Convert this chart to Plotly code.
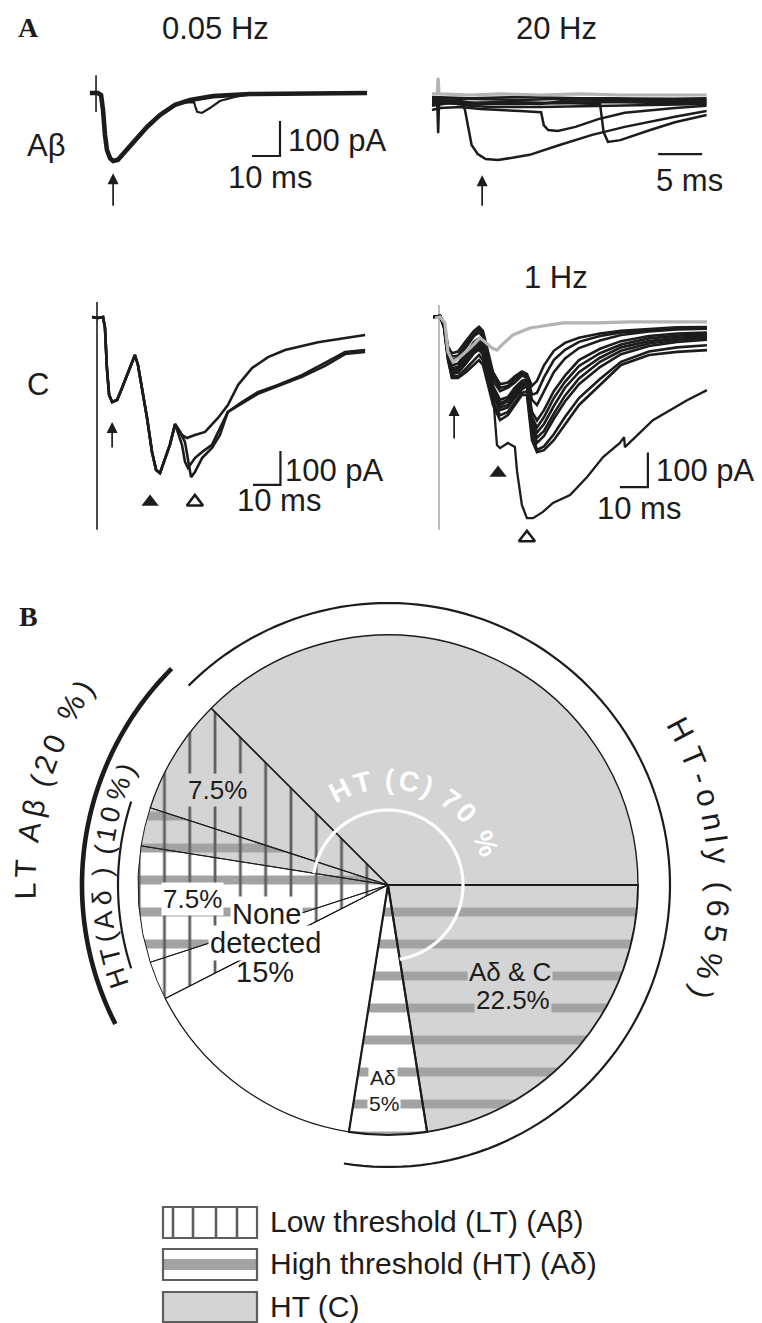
import numpy as np
import plotly.graph_objects as go

W, H = 762, 1323
FONT = "Liberation Sans, Arial, Helvetica, sans-serif"
SERIF = "Liberation Serif, Times New Roman, serif"
INK = "#1c1c1c"
GRAYTRACE = "#b4b4b4"
CGRAY = "#d4d4d4"
STRIPE = "#a3a3a3"
VLINE = "#5e5e5e"
FS = 31

# ======================= Panel A data (time ms, current pA) =======================
# 0.05 Hz, A-beta
ab05_t = [-0.4, 2.5, 3.6, 4.3, 5.0, 5.7, 6.8, 7.9, 9.6, 12.1, 15.7, 20.0, 24.6, 30.0, 35.4, 43.6, 56.8, 74.6, 98.6]
ab05_i = [0, 0, -6, -49, -120, -163, -186, -194, -191, -169, -134, -97, -63, -34, -20, -9, -3, -1, 0]
ab05_late_t = [33.0, 36.8, 37.3, 37.9, 39.6, 42.5, 46.0, 51.4, 56.0]
ab05_late_i = [-27, -26, -40, -54, -57, -43, -23, -11, -5]
ab05_art_t = [1.8, 1.8]
ab05_art_i = [51, -54]

# 20 Hz, A-beta
ab20_gray_t = [0, 0.6, 0.7, 0.8, 4.3, 7.7, 12.3, 16.8, 21.4, 27.6, 31.2]
ab20_gray_i = [3, 3, 49, 3, 0, 3, 0, 3, 0, 0, 0]
ab20_a_t = [0, 0.6, 0.7, 0.8, 2.0, 3.4, 3.75, 4.1, 4.5, 5.2, 6.1, 7.5, 9.1, 11.1, 14.5, 18.2, 21.9, 27.6, 31.2]
ab20_a_i = [-26, -26, -109, -23, -20, -23, -43, -94, -143, -169, -183, -186, -180, -171, -143, -114, -91, -62, -46]
ab20_b_t = [0, 0.9, 3.2, 5.5, 10.0, 12.4, 12.7, 13.2, 14.3, 16.3, 18.9, 21.9, 27.6, 31.2]
ab20_b_i = [-43, -37, -34, -40, -46, -49, -86, -100, -103, -91, -69, -51, -37, -31]
ab20_c_t = [0, 4.3, 10.0, 14.8, 19.1, 19.5, 20.0, 21.4, 24.8, 27.6, 31.2]
ab20_c_i = [-23, -26, -26, -23, -26, -106, -134, -129, -100, -78, -57]
ab20_d_t = [0, 4.3, 10.0, 16.8, 27.6, 31.2]
ab20_d_i = [-6, -9, -6, -9, -11, -9]
ab20_e_t = [0, 3.2, 5.5, 7.7, 12.3, 14.8, 19.1, 27.6, 31.2]
ab20_e_i = [-14, -17, -26, -23, -26, -17, -14, -20, -17]
ab20_f_t = [0, 2.0, 4.3, 6.6, 12.3, 19.1, 23.6, 27.6, 31.2]
ab20_f_i = [-31, -23, -31, -34, -34, -31, -31, -29, -26]
ab20_g_t = [0, 5.0, 10.0, 15.0, 20.0, 25.0, 31.2]
ab20_g_i = [-9, -11, -14, -11, -9, -14, -14]
ab20_h_t = [0, 3.0, 8.0, 14.0, 20.0, 26.0, 31.2]
ab20_h_i = [-20, -23, -20, -23, -20, -23, -23]

# 0.05 Hz, C fibre (three sweeps, common early part)
c05_common_t = [-1.8, 0.4, 2.2, 2.9, 3.6, 4.4, 5.5, 7.3, 9.1, 11.3, 13.8, 14.9, 16.7, 18.2, 20.0, 21.5, 22.9, 24.7, 26.5, 28.4]
c05_common_i = [0, -3, 0, -32, -150, -229, -250, -244, -209, -162, -112, -141, -221, -297, -397, -450, -459, -415, -376, -315]
c05_a_t = [30.9, 32.7, 35.6, 39.3, 44.0, 47.6, 51.3, 56.4, 62.2, 68.4, 80.4, 92.7, 97.5]
c05_a_i = [-347, -356, -347, -338, -297, -259, -200, -150, -118, -97, -74, -59, -53]
c05_b_t = [30.9, 32.0, 33.1, 35.6, 38.2, 41.8, 44.0, 47.6, 52.7, 58.5, 65.8, 74.5, 82.9, 90.2, 97.5]
c05_b_i = [-376, -426, -444, -415, -397, -376, -338, -279, -250, -221, -200, -171, -135, -103, -97]
c05_c_t = [30.2, 32.0, 33.5, 34.2, 35.6, 38.2, 41.8, 44.7, 47.6, 52.7, 58.5, 65.8, 74.5, 82.9, 90.2, 97.5]
c05_c_i = [-338, -368, -435, -471, -456, -415, -385, -347, -279, -253, -226, -203, -176, -144, -109, -103]
c05_art_t = [0, 0]
c05_art_i = [44, -626]

# 1 Hz, C fibre
c1_gray_t = [-1.4, 0.4, 2.1, 3.2, 5.0, 7.5, 11.1, 14.6, 16.4, 18.9, 20.7, 22.5, 26.4, 32.5, 44.3, 56.4, 68.2, 95.7]
c1_gray_i = [-3, 0, -17, -101, -130, -116, -90, -61, -72, -90, -96, -81, -52, -32, -17, -17, -14, -14]
c1_art_t = [0, 0]
c1_art_i = [35, -617]
c1_bundle_t = [-2.1, 0.4, 1.8, 3.2, 4.6, 6.8, 9.6, 12.5, 14.3, 15.7, 17.5, 19.3, 21.8, 24.6, 27.1, 29.6,
               31.4, 33.2, 35.0, 37.5, 41.0, 45.0, 50.0, 57.5, 65.0, 75.0, 85.0, 95.7]
c1_sweep1 = [0, 3, -15, -85, -105, -100, -70, -40, -28, -40, -100, -160, -195, -190, -172, -158, -165, -200, -185, -140, -98, -75, -60, -48, -40, -34, -30, -29]
c1_sweep2 = [0, 3, -20, -95, -125, -118, -88, -55, -45, -58, -120, -185, -215, -205, -190, -170, -175, -240, -255, -215, -160, -120, -90, -68, -52, -42, -36, -34]
c1_sweep3 = [0, 2, -22, -100, -140, -135, -105, -72, -62, -75, -140, -200, -240, -232, -205, -185, -180, -275, -300, -270, -215, -170, -125, -92, -70, -55, -48, -45]
c1_sweep4 = [0, 3, -25, -110, -155, -150, -118, -90, -78, -92, -155, -215, -255, -245, -222, -198, -190, -300, -335, -310, -258, -205, -160, -118, -88, -70, -60, -55]
c1_sweep5 = [0, 2, -28, -115, -165, -162, -135, -105, -95, -110, -170, -230, -270, -262, -235, -210, -200, -320, -365, -345, -295, -245, -195, -145, -108, -84, -72, -66]
c1_sweep6 = [0, 3, -30, -120, -172, -172, -150, -125, -110, -125, -185, -245, -285, -275, -248, -220, -215, -340, -385, -375, -340, -290, -235, -180, -130, -100, -88, -82]
c1_sweep7 = [0, 2, -32, -125, -177, -177, -160, -139, -125, -139, -197, -255, -299, -284, -255, -226, -226, -357, -392, -386, -357, -313, -255, -197, -139, -110, -101, -96]
c1_sweep8 = [0, 3, -18, -90, -115, -112, -80, -50, -35, -50, -110, -170, -205, -200, -180, -165, -170, -225, -220, -175, -125, -95, -72, -55, -45, -38, -33, -31]
c1_sweep9 = [0, 3, -24, -105, -148, -145, -112, -80, -70, -85, -150, -208, -250, -240, -215, -192, -185, -290, -320, -290, -235, -188, -142, -105, -80, -62, -54, -50]
c1_sweep10 = [0, 2, -27, -112, -160, -158, -128, -98, -88, -102, -162, -222, -262, -255, -228, -204, -195, -310, -350, -330, -280, -228, -178, -130, -98, -77, -66, -60]
c1_big_t = [-2.1, 0.4, 1.8, 3.2, 4.6, 6.8, 9.6, 12.5, 14.3, 15.7, 17.5, 19.3, 20.7, 21.8, 24.6, 27.1, 27.9, 29.6,
            31.4, 33.6, 37.1, 40.7, 46.8, 52.9, 58.6, 64.6, 66.1, 66.4, 76.4, 88.6, 95.7]
c1_big_i = [0, 3, -25, -110, -160, -155, -125, -95, -85, -100, -170, -226, -371, -380, -365, -377, -449, -545,
            -583, -583, -565, -539, -516, -464, -406, -365, -348, -377, -299, -241, -212]

# arrows (tip position) and arrowheads, per panel
arrow_t = [7.9, 5.7, 5.5, 5.4]
arrow_i = [-229, -229, -309, -255]
fill_tri_t = {"3": [19.3], "4": [21.1]}
fill_tri_i = {"3": [-544], "4": [-452]}
open_tri_t = {"3": [35.6], "4": [31.4]}
open_tri_i = {"3": [-544], "4": [-640]}

# scale bars: (t0, length ms, I0, height pA)
scalebars = {"": (57.5, 10, -180, 100), "2": (25.7, 5, -169, 0),
             "3": (56.7, 10, -494, 100), "4": (64.6, 10, -493, 100)}

# ======================= Panel B data =======================
pie_labels = ["Aδ & C", "Aδ", "None detected", "Aβ", "Aβ & Aδ", "Aβ, Aδ & C", "Aβ & C", "C"]
pie_values = [22.5, 5, 15, 2.5, 7.5, 2.5, 7.5, 37.5]
has_c = [1, 0, 0, 0, 0, 1, 1, 1]
has_ad = [1, 1, 0, 0, 1, 1, 0, 0]
has_ab = [0, 0, 0, 1, 1, 1, 1, 0]

legend_labels = ["Low threshold (LT) (Aβ)", "High threshold (HT) (Aδ)", "HT (C)"]

# ======================= Figure =======================
fig = go.Figure()
layout = {}

panels = {
    "":  dict(px=(85, 400), py=(60, 215), org=(91, 93), sx=2.8, sy=0.35),
    "2": dict(px=(425, 760), py=(60, 215), org=(432, 95), sx=8.8, sy=0.35),
    "3": dict(px=(85, 420), py=(290, 548), org=(97, 317), sx=2.75, sy=0.34),
    "4": dict(px=(425, 762), py=(290, 552), org=(439, 317), sx=2.8, sy=0.345),
}
for k, p in panels.items():
    x0, x1 = p["px"]; y0, y1 = p["py"]; ox, oy = p["org"]
    layout["xaxis" + k] = dict(domain=[x0 / W, x1 / W], range=[(x0 - ox) / p["sx"], (x1 - ox) / p["sx"]],
                               visible=False, anchor="y" + k, fixedrange=True)
    layout["yaxis" + k] = dict(domain=[1 - y1 / H, 1 - y0 / H], range=[-(y1 - oy) / p["sy"], (oy - y0) / p["sy"]],
                               visible=False, anchor="x" + k, fixedrange=True)
# canvas axis for panel B decorations (1 unit = 1 px, origin = pie centre)
CX, CY = 388, 885
layout["xaxis5"] = dict(domain=[0, 1], range=[-CX, W - CX], visible=False, anchor="y5", fixedrange=True)
layout["yaxis5"] = dict(domain=[0, 1], range=[-(H - CY), CY], visible=False, anchor="x5", fixedrange=True)


def line(k, t, i, color=INK, width=2.2):
    fig.add_trace(go.Scatter(x=t, y=i, xaxis="x" + k, yaxis="y" + k, mode="lines",
                             line=dict(color=color, width=width), hoverinfo="skip", showlegend=False))


# panel 1
line("", ab05_art_t, ab05_art_i, width=1.6)
line("", ab05_late_t, ab05_late_i, width=2.2)
line("", ab05_t, ab05_i, width=4.6)
# panel 2
for tt, ii in [(ab20_d_t, ab20_d_i), (ab20_g_t, ab20_g_i), (ab20_e_t, ab20_e_i), (ab20_h_t, ab20_h_i),
               (ab20_f_t, ab20_f_i), (ab20_b_t, ab20_b_i), (ab20_c_t, ab20_c_i), (ab20_a_t, ab20_a_i)]:
    line("2", tt, ii, width=2.5)
line("2", ab20_gray_t, ab20_gray_i, color=GRAYTRACE, width=3.2)
# panel 3
line("3", c05_art_t, c05_art_i, width=1.6)
for tt, ii in [(c05_a_t, c05_a_i), (c05_b_t, c05_b_i), (c05_c_t, c05_c_i)]:
    line("3", c05_common_t + tt, c05_common_i + ii, width=2.6)
# panel 4
line("4", c1_art_t, c1_art_i, color=GRAYTRACE, width=1.8)
for sw in [c1_sweep1, c1_sweep2, c1_sweep3, c1_sweep4, c1_sweep5, c1_sweep6, c1_sweep7,
           c1_sweep8, c1_sweep9, c1_sweep10]:
    line("4", c1_bundle_t, sw, width=2.6)
line("4", c1_big_t, c1_big_i, width=2.3)
line("4", c1_gray_t, c1_gray_i, color=GRAYTRACE, width=3.2)

# scale bars
for k, (t0, tl, i0, ih) in scalebars.items():
    if ih:
        line(k, [t0, t0 + tl, t0 + tl], [i0, i0, i0 + ih], width=2.2)
    else:
        line(k, [t0, t0 + tl], [i0, i0], width=2.4)

# triangles
for k in ["3", "4"]:
    fig.add_trace(go.Scatter(x=fill_tri_t[k], y=fill_tri_i[k], xaxis="x" + k, yaxis="y" + k, mode="markers",
                             marker=dict(symbol="triangle-up", size=15, color=INK), hoverinfo="skip", showlegend=False))
    fig.add_trace(go.Scatter(x=open_tri_t[k], y=open_tri_i[k], xaxis="x" + k, yaxis="y" + k, mode="markers",
                             marker=dict(symbol="triangle-up-open", size=14, color=INK, line=dict(width=2.6)),
                             hoverinfo="skip", showlegend=False))

fig.add_trace(go.Scatter(x=[0], y=[0], xaxis="x5", yaxis="y5", mode="markers", marker=dict(opacity=0),
                         hoverinfo="skip", showlegend=False))

annotations = []
arrow_len = [34, 32, 27, 35]
for k, t, i, L in zip(["", "2", "3", "4"], arrow_t, arrow_i, arrow_len):
    annotations.append(dict(x=t, y=i, xref="x" + k, yref="y" + k, ax=0, ay=L, text="", showarrow=True,
                            arrowhead=2, arrowsize=1.3, arrowwidth=1.7, arrowcolor=INK, standoff=0))


def ptxt(text, px, py, size=FS, xanchor="center", family=FONT, color=INK, bold=False):
    if bold:
        text = "<b>" + text + "</b>"
    annotations.append(dict(x=px / W, y=1 - py / H, xref="paper", yref="paper", text=text, showarrow=False,
                            xanchor=xanchor, yanchor="middle", font=dict(size=size, family=family, color=color)))


ptxt("A", 28, 27, size=28, family=SERIF, bold=True)
ptxt("B", 28, 617, size=28, family=SERIF, bold=True)
ptxt("0.05 Hz", 215, 28)
ptxt("20 Hz", 556, 28)
ptxt("1 Hz", 556, 277)
ptxt("Aβ", 46, 146)
ptxt("C", 38, 385)
ptxt("100 pA", 286, 141, xanchor="left")
ptxt("10 ms", 226, 177, xanchor="left")
ptxt("5 ms", 689, 180)
ptxt("100 pA", 283, 470, xanchor="left")
ptxt("10 ms", 235, 500, xanchor="left")
ptxt("100 pA", 654, 470, xanchor="left")
ptxt("10 ms", 595, 508, xanchor="left")

# ---------------- Pie (three stacked layers) ----------------
dom = dict(x=[(CX - 250) / W, (CX + 250) / W], y=[1 - (CY + 250) / H, 1 - (CY - 250) / H])
base_col = [CGRAY if c else "white" for c in has_c]
fig.add_trace(go.Pie(values=pie_values, labels=pie_labels, sort=False, direction="clockwise", rotation=90,
                     textinfo="none", hoverinfo="skip", showlegend=False, domain=dom,
                     marker=dict(colors=base_col, line=dict(width=0),
                                 pattern=dict(shape=["-" if a else "" for a in has_ad], fgcolor=STRIPE,
                                              bgcolor=base_col, size=32, solidity=0.28, fillmode="replace"))))
fig.add_trace(go.Pie(values=pie_values, labels=pie_labels, sort=False, direction="clockwise", rotation=90,
                     textinfo="none", hoverinfo="skip", showlegend=False, domain=dom,
                     marker=dict(colors=["rgba(0,0,0,0)"] * len(pie_values), line=dict(width=0),
                                 pattern=dict(shape=["|" if a else "" for a in has_ab], fgcolor=VLINE,
                                              bgcolor="rgba(0,0,0,0)", size=25.3, solidity=0.11,
                                              fillmode="replace"))))
fig.add_trace(go.Pie(values=pie_values, labels=pie_labels, sort=False, direction="clockwise", rotation=90,
                     textinfo="none", hoverinfo="skip", showlegend=False, domain=dom,
                     marker=dict(colors=["rgba(0,0,0,0)"] * len(pie_values),
                                 line=dict(color=INK, width=[1.8, 2.2, 1.3, 1.0, 1.0, 1.0, 1.3, 1.4]))))

# angles (deg, clockwise from 3 o'clock) of slice boundaries from the data
cum = np.concatenate([[0], np.cumsum(pie_values)]) / np.sum(pie_values) * 360.0


def arc_path(r, a0, a1):
    th = np.radians(np.linspace(a0, a1, 120))
    xs, ys = r * np.cos(th), -r * np.sin(th)
    return "M " + " L ".join(f"{x:.2f},{y:.2f}" for x, y in zip(xs, ys))


shapes = []


def arc(r, a0, a1, width, color=INK):
    shapes.append(dict(type="path", xref="x5", yref="y5", path=arc_path(r, a0, a1),
                       line=dict(color=color, width=width), layer="above"))


ab_idx = [i for i, v in enumerate(has_ab) if v]
arc(306, cum[ab_idx[0]], cum[ab_idx[-1] + 1], 4.6)                     # LT Abeta 20 %
arc(282, cum[7], 360 + cum[2], 2.2)                                     # HT-only 65 %
arc(270, cum[4], cum[6], 2.2)                                           # HT(Adelta) 10 %
arc(75, cum[5], 360 + cum[1], 3.2, color="white")                       # HT(C) 70 %

CW = {"H": .722, "T": .611, " ": .278, "(": .333, ")": .333, "C": .722, "7": .556, "0": .556, "%": .889,
      "L": .556, "A": .667, "β": .57, "2": .556, "1": .556, "5": .556, "6": .556, "δ": .556, "-": .333,
      "o": .556, "n": .556, "l": .222, "y": .5}


def curved(text, r, th0, th1, size, color=INK, bold=False):
    widths = [CW.get(ch, .556) for ch in text]
    centers, s = [], 0.0
    for w in widths:
        centers.append(s + w / 2)
        s += w
    c0, c1 = centers[0], centers[-1]
    for ch, c in zip(text, centers):
        if ch == " ":
            continue
        th = th0 + (th1 - th0) * (c - c0) / (c1 - c0)
        rad = np.radians(th)
        ang = ((th + 90 + 180) % 360) - 180
        annotations.append(dict(x=r * np.cos(rad), y=-r * np.sin(rad), xref="x5", yref="y5",
                                text=("<b>" + ch + "</b>") if bold else ch,
                                showarrow=False, textangle=ang, xanchor="center", yanchor="middle",
                                font=dict(size=size, family=FONT, color=color)))


curved("HT (C) 70 %", 106, 243, 337, 28, color="white", bold=True)
curved("LT Aβ (20 %)", 363, 179, 213, 30)
curved("HT(Aδ ) (10%)", 286, 161, 204, 27)
curved("HT-only (65%)", 331, -28, 19, 31)


def ctxt(text, px, py, size=26, bg=None):
    annotations.append(dict(x=px - CX, y=CY - py, xref="x5", yref="y5", text=text, showarrow=False,
                            xanchor="center", yanchor="middle", bgcolor=bg, borderpad=1,
                            font=dict(size=size, family=FONT, color=INK)))


ctxt("None", 266, 914, size=29, bg="white")
ctxt("detected", 265, 943, size=29, bg="white")
ctxt("15%", 265, 972, size=29)
ctxt("7.5%", 217, 790, bg=CGRAY)
ctxt("7.5%", 192, 899, bg="white")
ctxt("Aδ & C", 510, 972, bg=CGRAY)
ctxt("22.5%", 513, 1000, bg=CGRAY)
ctxt("Aδ", 383, 1077, size=21, bg="white")
ctxt("5%", 384, 1103, size=21, bg="white")

# ---------------- legend ----------------
def crect(x0, y0, x1, y1, fill, lw=0, lc=VLINE):
    shapes.append(dict(type="rect", xref="x5", yref="y5", x0=x0 - CX, x1=x1 - CX, y0=CY - y0, y1=CY - y1,
                       fillcolor=fill, line=dict(width=lw, color=lc), layer="above"))


def cline(x0, y0, x1, y1, lw, lc=VLINE):
    shapes.append(dict(type="line", xref="x5", yref="y5", x0=x0 - CX, x1=x1 - CX, y0=CY - y0, y1=CY - y1,
                       line=dict(width=lw, color=lc), layer="above"))


box_tops = [1207, 1249, 1292]
crect(163, box_tops[0], 257, box_tops[0] + 31, "white")
for xv in [173, 193, 216, 237]:
    cline(xv, box_tops[0], xv, box_tops[0] + 31, 2.6)
crect(163, box_tops[0], 257, box_tops[0] + 31, "rgba(0,0,0,0)", lw=2.2)
crect(163, box_tops[1], 257, box_tops[1] + 31, "white")
crect(163, box_tops[1] + 10, 257, box_tops[1] + 21, STRIPE)
crect(163, box_tops[1], 257, box_tops[1] + 31, "rgba(0,0,0,0)", lw=2.2)
crect(163, box_tops[2], 257, box_tops[2] + 30, CGRAY, lw=2.2)
for lab, yt in zip(legend_labels, box_tops):
    annotations.append(dict(x=268 - CX, y=CY - (yt + 14), xref="x5", yref="y5", text=lab, showarrow=False,
                            xanchor="left", yanchor="middle", font=dict(size=30, family=FONT, color=INK)))

fig.update_layout(width=W, height=H, margin=dict(l=0, r=0, t=0, b=0), autosize=False,
                  paper_bgcolor="white", plot_bgcolor="rgba(0,0,0,0)", showlegend=False,
                  annotations=annotations, shapes=shapes, **layout)
fig.write_html("out.html", config={"displayModeBar": False, "staticPlot": True},
               post_script="document.body.style.margin='0px';document.body.style.overflow='hidden';")
